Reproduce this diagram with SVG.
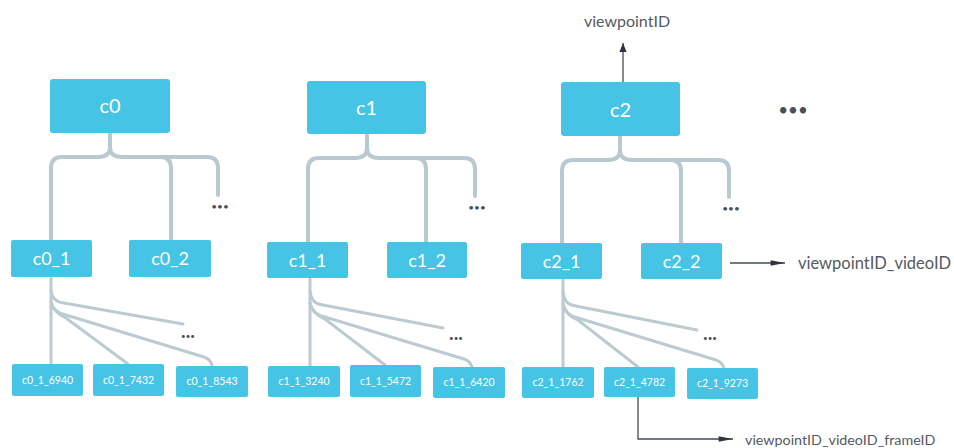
<svg xmlns="http://www.w3.org/2000/svg" width="954" height="448" viewBox="0 0 954 448">
  <style>
    .node { fill: #45c4e5; }
    .big { font: 400 20px Lato, "Open Sans", sans-serif; fill: #ffffff; text-anchor: middle; }
    .mid { font: 400 18px Lato, "Open Sans", sans-serif; fill: #ffffff; text-anchor: middle; }
    .leaf { font: 400 10.5px Lato, "Open Sans", sans-serif; fill: #ffffff; text-anchor: middle; }
    .tree { fill: none; stroke: #b9c9d0; stroke-width: 4; stroke-linecap: round; }
    .fan { fill: none; stroke: #bccbd1; stroke-width: 3; stroke-linecap: round; }
    .ptr { fill: none; stroke: #444b55; stroke-width: 1.3; }
    .dots { font: 400 10px Lato, "Open Sans", sans-serif; fill: #4a4f55; text-anchor: middle; }
    .tiny { font: 400 8px Lato, "Open Sans", sans-serif; fill: #4a4f55; text-anchor: middle; }
    .bigdots { font: 400 17px Lato, "Open Sans", sans-serif; fill: #4a4f55; text-anchor: middle; }
    .label { font: 400 16px Lato, "Open Sans", sans-serif; fill: #555a60; }
  </style>
  <defs>
    <marker id="arrow" viewBox="0 0 10 10" refX="10" refY="5" markerWidth="9" markerHeight="9" markerUnits="userSpaceOnUse" orient="auto">
      <path d="M0,1 L10,5 L0,9 Z" fill="#2f3540"/>
    </marker>
    <marker id="arrowWide" viewBox="0 0 16 10" refX="16" refY="5" markerWidth="18" markerHeight="9" markerUnits="userSpaceOnUse" orient="auto">
      <path d="M0,2 L16,5 L0,8 Z" fill="#2f3540"/>
    </marker>
  </defs>

  <!-- connectors -->
  <g id="connectors">
    <!-- tree 0 -->
    <path class="tree" d="M110,134 V147 Q110,157 98,157 H62 Q51,157 51,168 V240"/>
    <path class="tree" d="M110,147 Q110,157 122,157 H160 Q171,157 171,168 V240"/>
    <path class="tree" d="M160,157 H207 Q218,157 218,168 V195"/>
    <path class="fan" d="M51,277 V364"/>
    <path class="fan" d="M51,290 Q52,302 64,303 L183,324"/>
    <path class="fan" d="M51,302 Q53,312 66,318 L128,364"/>
    <path class="fan" d="M51,302 Q53,312 66,315 L204,357 Q210,359 212,365"/>
    <!-- tree 1 -->
    <path class="tree" d="M367,135 V148 Q367,158 355,158 H319 Q308,158 308,169 V242"/>
    <path class="tree" d="M367,148 Q367,158 379,158 H415 Q426,158 426,169 V242"/>
    <path class="tree" d="M415,158 H464 Q475,158 475,169 V196"/>
    <path class="fan" d="M310,278 V366"/>
    <path class="fan" d="M310,291 Q311,304 323,305 L443,328"/>
    <path class="fan" d="M310,303 Q312,314 325,319 L385,365"/>
    <path class="fan" d="M310,303 Q312,314 325,317 L464,359 Q470,361 472,367"/>
    <!-- tree 2 -->
    <path class="tree" d="M620,137 V150 Q620,160 608,160 H573 Q562,160 562,171 V243"/>
    <path class="tree" d="M620,150 Q620,160 632,160 H670 Q681,160 681,171 V243"/>
    <path class="tree" d="M670,160 H718 Q729,160 729,171 V197"/>
    <path class="fan" d="M563,279 V367"/>
    <path class="fan" d="M563,292 Q564,305 576,306 L697,330"/>
    <path class="fan" d="M563,304 Q565,315 578,320 L638,367"/>
    <path class="fan" d="M563,304 Q565,315 578,318 L716,360 Q722,362 724,368"/>
    <!-- key pointers -->
    <path class="ptr" d="M623,82 V43" marker-end="url(#arrow)"/>
    <path class="ptr" d="M730,263 H785" marker-end="url(#arrowWide)"/>
    <path class="ptr" d="M638,397 V439 H733" marker-end="url(#arrowWide)"/>
  </g>

  <!-- group c0 -->
  <g id="c0">
    <rect class="node" x="50" y="79" width="120" height="54" rx="3"/>
    <text class="big" x="110" y="113">c0</text>
  </g>
  <g id="c0_1">
    <rect class="node" x="11" y="240" width="81" height="37" rx="2"/>
    <text class="mid" x="51.5" y="265">c0_1</text>
  </g>
  <g id="c0_2">
    <rect class="node" x="129" y="240" width="82" height="37" rx="2"/>
    <text class="mid" x="170" y="265">c0_2</text>
  </g>
  <g id="c0_1_6940">
    <rect class="node" x="12" y="364" width="71" height="32" rx="2"/>
    <text class="leaf" x="47.5" y="384">c0_1_6940</text>
  </g>
  <g id="c0_1_7432">
    <rect class="node" x="93" y="364" width="71" height="32" rx="2"/>
    <text class="leaf" x="128.5" y="384">c0_1_7432</text>
  </g>
  <g id="c0_1_8543">
    <rect class="node" x="176" y="366" width="72" height="31" rx="2"/>
    <text class="leaf" x="212" y="385">c0_1_8543</text>
  </g>
  <text class="dots" x="220" y="210">•••</text>
  <text class="tiny" x="188" y="339">•••</text>

  <!-- group c1 -->
  <g id="c1">
    <rect class="node" x="307" y="81" width="119" height="53" rx="3"/>
    <text class="big" x="366.5" y="115">c1</text>
  </g>
  <g id="c1_1">
    <rect class="node" x="267" y="242" width="81" height="36" rx="2"/>
    <text class="mid" x="307.5" y="267">c1_1</text>
  </g>
  <g id="c1_2">
    <rect class="node" x="387" y="242" width="80" height="36" rx="2"/>
    <text class="mid" x="427" y="267">c1_2</text>
  </g>
  <g id="c1_1_3240">
    <rect class="node" x="268" y="366" width="72" height="31" rx="2"/>
    <text class="leaf" x="304" y="385">c1_1_3240</text>
  </g>
  <g id="c1_1_5472">
    <rect class="node" x="350" y="365" width="71" height="32" rx="2"/>
    <text class="leaf" x="385.5" y="385">c1_1_5472</text>
  </g>
  <g id="c1_1_6420">
    <rect class="node" x="433" y="367" width="72" height="31" rx="2"/>
    <text class="leaf" x="469" y="386">c1_1_6420</text>
  </g>
  <text class="dots" x="477" y="211">•••</text>
  <text class="tiny" x="456" y="341">•••</text>

  <!-- group c2 -->
  <g id="c2">
    <rect class="node" x="561" y="82" width="119" height="54" rx="3"/>
    <text class="big" x="620.5" y="117">c2</text>
  </g>
  <g id="c2_1">
    <rect class="node" x="521" y="243" width="81" height="36" rx="2"/>
    <text class="mid" x="561.5" y="268">c2_1</text>
  </g>
  <g id="c2_2">
    <rect class="node" x="641" y="243" width="81" height="36" rx="2"/>
    <text class="mid" x="681.5" y="268">c2_2</text>
  </g>
  <g id="c2_1_1762">
    <rect class="node" x="522" y="367" width="72" height="31" rx="2"/>
    <text class="leaf" x="558" y="386">c2_1_1762</text>
  </g>
  <g id="c2_1_4782">
    <rect class="node" x="604" y="367" width="71" height="30" rx="2"/>
    <text class="leaf" x="639.5" y="386">c2_1_4782</text>
  </g>
  <g id="c2_1_9273">
    <rect class="node" x="687" y="368" width="71" height="31" rx="2"/>
    <text class="leaf" x="722.5" y="387">c2_1_9273</text>
  </g>
  <text class="dots" x="731" y="212">•••</text>
  <text class="tiny" x="710" y="341">•••</text>

  <text class="bigdots" x="793" y="116">•••</text>

  <!-- key labels -->
  <text class="label" x="627" y="27" text-anchor="middle">viewpointID</text>
  <text class="label" x="798" y="269" style="font-size:16.5px">viewpointID_videoID</text>
  <text class="label" x="745" y="445" style="font-size:14.3px">viewpointID_videoID_frameID</text>
</svg>
